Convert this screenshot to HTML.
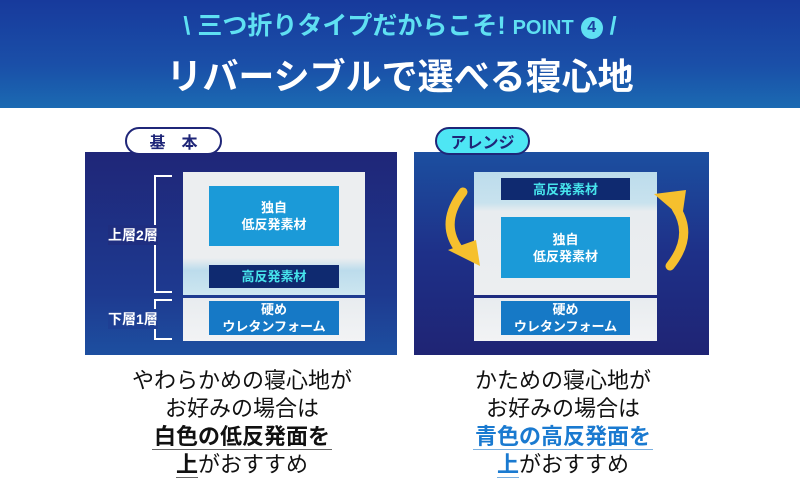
<!DOCTYPE html>
<html><head><meta charset="utf-8"><style>
*{margin:0;padding:0;box-sizing:border-box}
body{width:800px;height:495px;background:#fff;position:relative;overflow:hidden;font-family:"Liberation Sans","Noto Sans CJK JP",sans-serif}
.a{position:absolute}
.hdr{left:0;top:0;width:800px;height:108px;background:linear-gradient(#173a9c,#1a4fa8 60%,#1b6ab2)}
.c{text-align:center;white-space:nowrap}
.panel{background:linear-gradient(#1f2678,#1e3a90 70%,#1d4fa0)}
.panelr{background:linear-gradient(#1c4fa0,#1e3088 50%,#1f2474)}
.inner{background:linear-gradient(#e8ecef,#f2f3f5);}
.box{color:#fff;font-weight:bold;font-size:13px;line-height:17px;display:flex;align-items:center;justify-content:center;text-align:center}
.tab{height:28px;border:2px solid #1f2678;border-radius:14px;font-weight:bold;font-size:16px;color:#1f2678;display:flex;align-items:center;justify-content:center}
.lbl{color:#fff;font-size:14px;font-weight:bold}
.t{font-size:22px;line-height:28px;color:#111;width:340px}
</style></head><body>
<div class="a hdr"></div>
<div class="a c" style="left:0;width:800px;top:6px;font-size:25px;font-weight:bold;color:#5fe0f2">\ 三つ折りタイプだからこそ! <span style="font-size:20px">POINT</span> <span style="display:inline-block;width:22px;height:22px;border-radius:50%;background:#5fe0f2;color:#1a3f9e;font-size:16px;line-height:22px;vertical-align:2px">4</span> /</div>
<div class="a c" style="left:0;width:800px;top:48px;font-size:36px;font-weight:bold;color:#fff">リバーシブルで選べる寝心地</div>

<!-- left -->
<div class="a panel" style="left:85px;top:152px;width:312px;height:203px"></div>
<div class="a tab" style="left:125px;top:127px;width:97px;background:#fff">基　本</div>
<div class="a inner" style="left:183px;top:172px;width:182px;height:123px;background:linear-gradient(#eceef0 0%,#eceef0 70%,#bcdcec 80%,#cde6f0 100%)"></div>
<div class="a inner" style="left:183px;top:298px;width:182px;height:43px"></div>
<div class="a box" style="left:209px;top:186px;width:130px;height:60px;background:#1b9ad8">独自<br>低反発素材</div>
<div class="a box" style="left:209px;top:265px;width:130px;height:23px;background:#0f2a70;color:#47e4ec">高反発素材</div>
<div class="a box" style="left:209px;top:301px;width:130px;height:34px;background:#1679c6">硬め<br>ウレタンフォーム</div>
<div class="a" style="left:154px;top:175px;width:18px;height:118px;border:2px solid #fff;border-right:none"></div>
<div class="a" style="left:154px;top:299px;width:18px;height:41px;border:2px solid #fff;border-right:none"></div>
<div class="a lbl" style="left:108px;top:225px;background:#1f2e80">上層2層</div>
<div class="a lbl" style="left:108px;top:309px;background:#1e3f94">下層1層</div>

<!-- right -->
<div class="a panelr" style="left:414px;top:152px;width:295px;height:203px"></div>
<div class="a tab" style="left:435px;top:127px;width:95px;background:#4ee6f4">アレンジ</div>
<div class="a inner" style="left:474px;top:172px;width:183px;height:123px;background:linear-gradient(#bcdcec 0%,#c8e2ee 25%,#e8ecef 32%,#eceef0 100%)"></div>
<div class="a inner" style="left:474px;top:298px;width:183px;height:43px"></div>
<div class="a box" style="left:501px;top:178px;width:129px;height:22px;background:#0f2a70;color:#47e4ec">高反発素材</div>
<div class="a box" style="left:501px;top:217px;width:129px;height:61px;background:#1b9ad8">独自<br>低反発素材</div>
<div class="a box" style="left:501px;top:301px;width:129px;height:34px;background:#1679c6">硬め<br>ウレタンフォーム</div>
<svg class="a" style="left:0;top:0" width="800" height="495">
<path d="M463 192 Q440 222 458 248" stroke="#f6c02e" stroke-width="9" fill="none" stroke-linecap="round"/>
<polygon points="448,250 480,266 476,240" fill="#f6c02e"/>
<path d="M670 266 Q694 236 676 208" stroke="#f6c02e" stroke-width="9" fill="none" stroke-linecap="round"/>
<polygon points="654,194 686,190 682,218" fill="#f6c02e"/>
</svg>

<!-- bottom texts -->
<div class="a c t" style="left:72px;top:367px">やわらかめの寝心地が<br>お好みの場合は<br><b style="border-bottom:1px solid #666;padding:0 2px">白色の低反発面を</b><br><b style="border-bottom:1px solid #666">上</b>がおすすめ</div>
<div class="a c t" style="left:393px;top:367px">かための寝心地が<br>お好みの場合は<br><b style="color:#1a7ad0;border-bottom:1px solid #7ab0e0;padding:0 2px">青色の高反発面を</b><br><b style="color:#1a7ad0;border-bottom:1px solid #7ab0e0">上</b>がおすすめ</div>
</body></html>
